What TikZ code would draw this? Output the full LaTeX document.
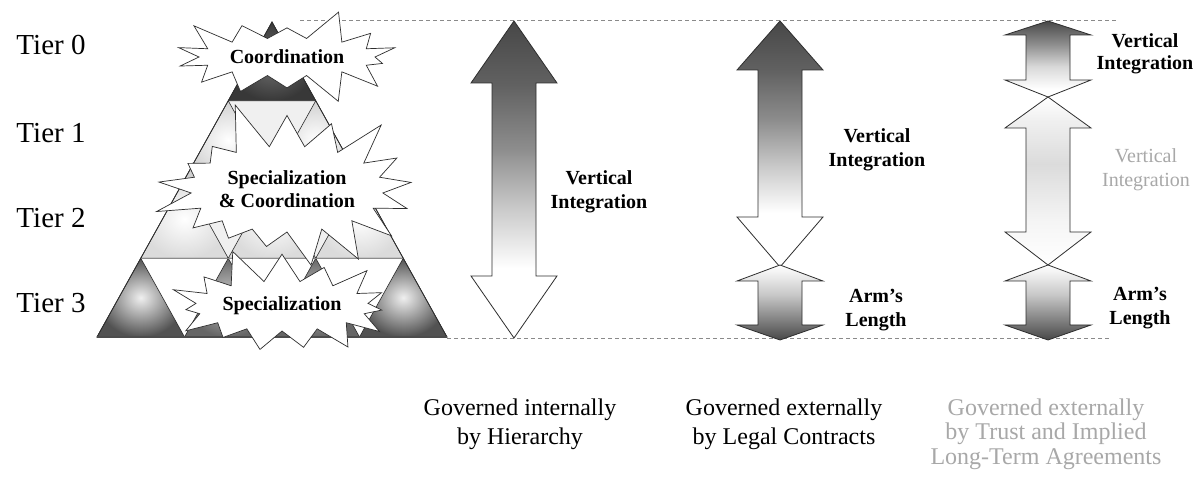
\documentclass[tikz,border=0pt]{standalone}
\usepackage{fontspec}
\setmainfont{Liberation Serif}
\usetikzlibrary{shapes.symbols}

\definecolor{inkline}{HTML}{2E2E2E}
\definecolor{guide}{HTML}{8A8A8A}
\definecolor{softtext}{HTML}{A8A8A8}

% vertical fades for the arrows (0bp = bottom, path spans 25bp..75bp)
\pgfdeclareverticalshading{fadedown}{100bp}{color(0bp)=(white); color(36bp)=(white); color(45bp)=(black!20); color(55bp)=(black!45); color(65bp)=(black!62); color(75bp)=(black!72); color(100bp)=(black!72)}
\pgfdeclareverticalshading{fadeshort}{100bp}{color(0bp)=(white); color(30bp)=(white); color(45bp)=(black!15); color(60bp)=(black!45); color(75bp)=(black!72); color(100bp)=(black!72)}
\pgfdeclareverticalshading{fadeup}{100bp}{color(0bp)=(black!72); color(25bp)=(black!72); color(38bp)=(black!50); color(55bp)=(black!22); color(70bp)=(black!5); color(75bp)=(white); color(100bp)=(white)}
\pgfdeclareverticalshading{fadesoft}{100bp}{color(0bp)=(white); color(25bp)=(white); color(38bp)=(black!4); color(55bp)=(black!14); color(68bp)=(black!6); color(75bp)=(white); color(100bp)=(white)}

\tikzset{
  arrowline/.style={draw=inkline, line width=0.8pt, line join=miter},
  guideline/.style={draw=guide, line width=0.7pt, dash pattern=on 4pt off 3pt},
  burst/.style={starburst, draw=inkline, line width=0.7pt, fill=white, align=center,
    font=\bfseries\fontsize{20}{23}\selectfont, inner sep=0pt},
  tierlabel/.style={font=\fontsize{29}{30}\selectfont, anchor=center},
  armlabel/.style={font=\bfseries\fontsize{20}{24}\selectfont, align=center},
  govlabel/.style={font=\fontsize{24}{29}\selectfont, align=center},
  upbig/.style={draw=inkline, line width=0.6pt},
}

% double-headed vertical arrow: centre x, top tip, top head base, bottom head base, bottom tip, shading
\newcommand\vertarrow[6]{%
  \shadedraw[arrowline, shading=#6]
    (#1,#2) -- (#1+43,#3) -- (#1+22,#3) -- (#1+22,#4) -- (#1+43,#4) -- (#1,#5)
    -- (#1-43,#4) -- (#1-22,#4) -- (#1-22,#3) -- (#1-43,#3) -- cycle;}

% upward triangle of the pyramid grid, given its apex
\newcommand\uptri[3]{%
  \shadedraw[upbig, shading=radial, #3]
    (#1,#2) -- ({#1+43.75},{#2+78.75}) -- ({#1-43.75},{#2+78.75}) -- cycle;}

\begin{document}
\begin{tikzpicture}[x=1pt, y=-1pt]
\useasboundingbox (0,0) rectangle (1200,478);
\fill[white] (0,0) rectangle (1200,478);

% guide lines
\coordinate (gtl) at (300,20);
\coordinate (gtr) at (1118,20);
\coordinate (gbl) at (447,338);
\coordinate (gbr) at (1110,338);
\draw[guideline] (gtl) -- (gtr);
\draw[guideline] (gbl) -- (gbr);

% tier labels
\node[tierlabel] (t0) at (51,45) {Tier 0};
\node[tierlabel] (t1) at (51,133) {Tier 1};
\node[tierlabel] (t2) at (51,218) {Tier 2};
\node[tierlabel] (t3) at (51,303) {Tier 3};

% pyramid: light middle band, then the upward triangles
\fill[black!6] (228.25,100.75) -- (315.75,100.75) -- (403.25,258.25) -- (140.75,258.25) -- cycle;
\uptri{272}{22}{inner color=black!55, outer color=black!78}
\uptri{228.25}{100.75}{inner color=white, outer color=black!18}
\uptri{315.75}{100.75}{inner color=white, outer color=black!18}
\uptri{184.5}{179.5}{inner color=white, outer color=black!14}
\uptri{272}{179.5}{inner color=white, outer color=black!14}
\uptri{359.5}{179.5}{inner color=white, outer color=black!14}
\uptri{140.75}{258.25}{inner color=black!6, outer color=black!68}
\uptri{228.25}{258.25}{inner color=black!20, outer color=black!60}
\uptri{315.75}{258.25}{inner color=black!20, outer color=black!60}
\uptri{403.25}{258.25}{inner color=black!6, outer color=black!68}
\draw[draw=black!45, line width=0.8pt] (140.75,258.25) -- (403.25,258.25);
\draw[draw=inkline, line width=0.8pt] (272,22) -- (447,337) -- (97,337) -- cycle;
\draw[draw=black!70, line width=2pt] (97,337) -- (447,337);

% starbursts
\node[burst, starburst points=15, random starburst=11, starburst point height=36pt,
      minimum width=245pt, minimum height=122pt] (spec) at (282,306) {Specialization};
\node[burst, starburst points=17, random starburst=5, starburst point height=50pt,
      minimum width=262pt, minimum height=186pt] (specco) at (287,189) {Specialization\\\& Coordination};
\node[burst, starburst points=14, random starburst=3, starburst point height=32pt,
      minimum width=240pt, minimum height=102pt] (coord) at (287,57) {Coordination};

% column 1: hierarchy
\vertarrow{514}{21}{83}{276}{338}{fadedown}
\node[armlabel] (vi1) at (599,192) {Vertical\\Integration};

% column 2: legal contracts
\vertarrow{780}{21}{70}{217}{267}{fadedown}
\vertarrow{780}{265}{281}{325}{340}{fadeup}
\node[armlabel] (vi2) at (877,150) {Vertical\\Integration};
\node[armlabel] (al2) at (876,310) {Arm's\\Length};

% column 3: trust and implied agreements
\vertarrow{1048}{21}{35}{80}{97}{fadeshort}
\vertarrow{1048}{97}{128}{232}{265}{fadesoft}
\vertarrow{1048}{265}{281}{325}{340}{fadeup}
\node[armlabel, font=\bfseries\fontsize{20}{22}\selectfont] (vi3) at (1145,54) {Vertical\\Integration};
\node[armlabel, text=softtext, font=\fontsize{20}{24}\selectfont] (vi3m) at (1146,170) {Vertical\\Integration};
\node[armlabel] (al3) at (1140,308) {Arm's\\Length};

% governance captions
\node[govlabel, anchor=north] (g1) at (520,395) {Governed internally\\by Hierarchy};
\node[govlabel, anchor=north] (g2) at (784,395) {Governed externally\\by Legal Contracts};
\node[govlabel, anchor=north, text=softtext, font=\fontsize{24}{24.5}\selectfont] (g3) at (1046,395)
  {Governed externally\\by Trust and Implied\\Long-Term Agreements};
\end{tikzpicture}
\end{document}
